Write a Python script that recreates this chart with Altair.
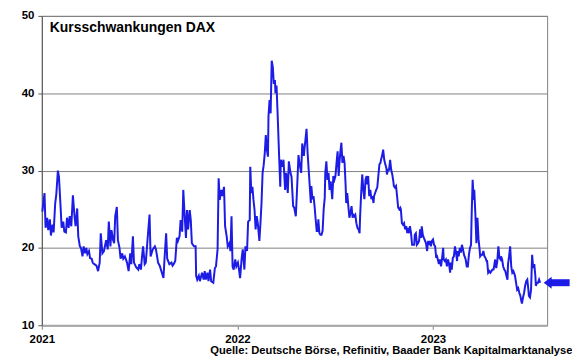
import altair as alt
import pandas as pd

# ---- data (day offset from 2021-01-01, value) ----
days_2021 = [1, 5, 7, 10, 12, 15, 17, 20, 22, 25, 27, 30, 32, 35, 37, 40, 42, 45, 47, 50,
             52, 55, 58, 61, 63, 66, 68, 71, 73, 76, 78, 81, 83, 85, 88, 90, 93, 95, 98, 102,
             105, 108, 110, 113, 116, 120, 123, 125, 128, 130, 133, 135, 137, 140, 142, 145,
             147, 150, 152, 155, 159, 162, 165, 167, 170, 172, 176, 180, 182, 185, 187, 189,
             192, 194, 198, 201, 203, 207, 211, 213, 217, 220, 224, 227, 229, 232, 234, 238,
             242, 244, 246, 249]
vals_2021 = [24.7, 27.1, 22.6, 23.9, 22.3, 23.7, 21.6, 23.0, 22.0, 25.8, 26.9, 30.0, 29.2,
             25.3, 22.6, 23.4, 22.1, 22.0, 23.9, 22.6, 24.1, 22.8, 26.8, 24.1, 22.8, 25.1,
             21.5, 20.2, 20.0, 18.9, 20.2, 19.3, 20.0, 19.2, 19.6, 18.7, 18.6, 18.1, 17.9,
             17.7, 17.0, 18.1, 21.9, 19.3, 19.6, 21.0, 19.8, 23.4, 20.2, 22.3, 21.0, 20.6,
             24.1, 25.3, 21.0, 20.0, 18.6, 19.3, 18.6, 18.9, 18.1, 17.0, 19.3, 17.9, 21.5,
             18.1, 17.5, 17.2, 17.9, 17.2, 18.9, 20.2, 17.9, 18.1, 21.7, 24.3, 18.9, 19.8,
             20.2, 19.8, 18.1, 17.7, 16.8, 16.1, 18.6, 21.9, 18.6, 17.9, 18.1, 17.7, 17.9, 18.3]

days_2021b = [252, 254, 257, 259, 262, 264, 266, 269, 271, 273, 276, 278, 280, 284, 287, 288,
              290, 293, 295, 299, 302, 304, 306, 309, 311, 314, 316, 320, 323, 325, 328, 330,
              332, 335, 337, 340, 342, 345, 347, 350, 352, 354, 356, 358, 361, 363, 366, 368,
              370, 373, 375, 378, 380, 383, 385, 388, 389, 391, 393, 395, 397, 399, 401, 403,
              406, 408, 410, 412, 414, 416, 418, 420, 422, 423, 425, 427, 429, 431, 433, 435,
              436, 438, 440, 443, 445, 446, 449, 451, 454, 456, 459, 461, 464, 466, 469, 471,
              474, 476, 479, 481, 484, 486]
vals_2021b = [21.3, 20.9, 21.5, 23.6, 22.1, 27.5, 24.9, 21.3, 24.9, 22.4, 24.9, 23.6, 20.6,
              20.2, 20.2, 16.4, 15.9, 16.4, 15.7, 16.8, 15.9, 17.0, 15.9, 16.8, 15.7, 17.2,
              15.7, 15.5, 17.4, 17.6, 19.8, 29.0, 26.2, 27.5, 26.7, 27.9, 22.8, 21.5, 20.2,
              20.6, 19.6, 24.1, 17.6, 17.2, 18.5, 17.6, 18.1, 17.2, 16.1, 18.7, 19.8, 17.2,
              20.2, 19.6, 23.4, 23.6, 30.5, 27.1, 27.9, 26.2, 24.9, 22.4, 24.1, 23.2, 20.9,
              23.2, 25.8, 29.7, 30.7, 32.2, 34.6, 32.7, 31.8, 37.0, 39.1, 37.4, 44.2, 43.4,
              41.2, 41.7, 40.0, 41.0, 37.4, 31.6, 27.9, 31.4, 30.5, 31.4, 27.5, 29.7, 27.1,
              31.2, 29.7, 29.2, 25.4, 25.2, 24.1, 27.1, 32.0, 30.9, 29.7, 33.5]

days_2022 = [489, 490, 492, 494, 496, 498, 500, 502, 503, 505, 507, 509, 511, 513, 515, 516,
             518, 520, 522, 524, 526, 528, 529, 531, 533, 535, 537, 539, 541, 542, 544, 546,
             548, 550, 552, 554, 555, 557, 559, 561, 563, 565, 567, 568, 570, 572, 574, 576,
             578, 580, 581, 583, 585, 587, 589, 591, 593, 594, 596, 598, 600, 602, 604, 606,
             607, 609, 611, 613, 615, 617, 619, 620, 622, 624, 626, 628, 630, 632, 633, 635,
             637, 639, 641, 643, 644, 646, 648, 650, 652, 654, 656, 657, 659, 661, 663, 665,
             667, 669, 670, 672, 674, 676, 678, 680, 682, 683, 685, 687, 689, 691, 693, 695,
             696, 698, 700, 702, 704, 706, 708, 709, 711, 713]
vals_2022 = [31.9, 32.7, 34.0, 35.4, 32.3, 30.1, 28.0, 25.8, 28.0, 26.3, 26.7, 25.4, 23.7,
             22.2, 22.2, 23.7, 21.9, 21.7, 21.7, 22.2, 25.0, 26.5, 29.7, 31.2, 28.8, 29.7,
             27.5, 28.6, 27.1, 26.3, 29.3, 28.8, 29.3, 31.0, 32.5, 29.3, 30.6, 32.3, 33.6,
             31.0, 31.9, 31.0, 28.0, 25.8, 27.1, 25.4, 23.9, 24.5, 25.4, 23.9, 24.3, 24.1,
             24.3, 23.2, 22.6, 22.4, 21.9, 24.1, 27.1, 29.5, 27.5, 26.3, 28.8, 29.3, 28.2,
             29.3, 26.7, 27.5, 26.3, 26.7, 25.8, 26.7, 27.1, 27.5, 27.8, 29.3, 30.8, 31.0,
             31.4, 31.9, 32.7, 31.4, 30.8, 30.3, 29.5, 30.1, 30.1, 31.4, 30.1, 29.5, 28.6,
             28.0, 27.8, 28.0, 26.7, 25.2, 25.0, 25.2, 25.0, 23.2, 23.0, 23.2, 22.4, 22.8,
             21.9, 22.6, 21.9, 22.8, 21.9, 20.4, 20.4, 20.4, 21.7, 21.9, 20.4, 20.6, 20.9,
             22.4, 21.3, 22.8, 21.7, 21.3]

days_2023 = [717, 719, 721, 723, 724, 726, 728, 730, 732, 734, 736, 737, 739, 741, 743, 745,
             747, 749, 750, 752, 754, 756, 758, 760, 762, 763, 765, 767, 769, 771, 773, 775,
             776, 778, 780, 782, 784, 786, 788, 789, 791, 793, 795, 797, 799, 801, 802, 804,
             806, 807, 809, 811, 813, 815, 817, 818, 820, 822, 824, 826, 828, 830, 831, 833,
             835, 837, 839, 841, 843, 844, 846, 848, 850, 852, 854, 856, 857, 859, 861, 863,
             865, 867, 869, 870, 872, 874, 876, 878, 880, 882, 883, 885, 887, 889, 891, 893,
             895, 896, 898, 900, 902, 904, 906, 908, 909, 911, 913, 915, 917, 919, 921, 922,
             924, 926, 928, 930]
vals_2023 = [20.6, 19.6, 20.9, 20.4, 20.9, 20.2, 20.9, 21.1, 20.4, 20.2, 18.7, 19.1, 18.5,
             17.9, 18.5, 17.6, 18.7, 20.0, 18.5, 18.3, 18.5, 17.6, 18.5, 17.9, 16.8, 18.1,
             17.2, 18.7, 18.9, 20.2, 19.4, 18.3, 19.6, 18.9, 20.0, 19.4, 20.4, 19.8, 19.1,
             18.9, 18.5, 17.6, 17.6, 19.1, 20.0, 20.4, 23.9, 28.8, 26.2, 27.5, 24.5, 20.6,
             23.9, 21.1, 19.8, 18.9, 19.1, 19.1, 19.6, 18.9, 18.7, 18.3, 18.3, 16.8, 17.0,
             16.8, 17.0, 17.2, 17.2, 17.6, 18.5, 17.4, 18.3, 20.2, 18.7, 18.5, 18.9, 18.5,
             17.6, 17.2, 17.0, 16.4, 15.9, 17.9, 18.9, 20.2, 17.6, 16.8, 17.0, 16.6, 16.4,
             15.5, 14.6, 14.8, 14.2, 13.8, 13.1, 12.8, 13.6, 14.2, 15.1, 15.7, 15.9, 14.6,
             13.8, 13.6, 14.6, 19.1, 17.4, 17.9, 16.4, 15.1, 15.5, 15.5, 15.9, 15.5]

year_ticks = [2021, 2022, 2023]
y_ticks = [10, 20, 30, 40, 50]
arrow_head_day = [944]
arrow_shaft_days = [949, 985]

title_text = "Kursschwankungen DAX"
source_text = "Quelle: Deutsche Börse, Refinitiv, Baader Bank Kapitalmarktanalyse"

# ---- build tables ----
base = pd.Timestamp("2021-01-01")
all_days = days_2021 + days_2021b + days_2022 + days_2023
all_vals = vals_2021 + vals_2021b + vals_2022 + vals_2023
df = pd.DataFrame({
    "date": base + pd.to_timedelta(all_days, unit="D"),
    "vdax": all_vals,
})
last_val = all_vals[-1]
head_df = pd.DataFrame({
    "date": base + pd.to_timedelta(arrow_head_day, unit="D"),
    "vdax": [last_val],
})
shaft_df = pd.DataFrame({
    "date": [base + pd.Timedelta(days=arrow_shaft_days[0])],
    "date2": [base + pd.Timedelta(days=arrow_shaft_days[1])],
    "vdax": [last_val],
})

BLUE = "#1c1ce6"
FONT = "Liberation Sans"

x_enc = alt.X(
    "date:T",
    scale=alt.Scale(domain=[alt.DateTime(year=2021, month=1, date=1),
                            alt.DateTime(year=2023, month=8, date=2)]),
    axis=alt.Axis(
        values=[alt.DateTime(year=y, month=1, date=1) for y in year_ticks],
        format="%Y", labelFlush=False, labelOverlap=False, grid=False,
        domainColor="#a6a6a6", domainWidth=2, tickColor="#7f7f7f", tickSize=4,
        labelFont=FONT, labelFontWeight="bold", labelFontSize=11.5, labelColor="black",
        labelPadding=4,
        title=source_text, titleFont=FONT, titleFontWeight="bold", titleFontSize=11.25,
        titleColor="black", titleX=533, titleY=28, titleAlign="right",
        titleBaseline="alphabetic", titleAnchor="end",
    ),
)
y_enc = alt.Y(
    "vdax:Q",
    scale=alt.Scale(domain=[10, 50], nice=False, zero=False),
    axis=alt.Axis(
        values=y_ticks, title=None, grid=True, gridColor="#808080", gridWidth=1,
        domainColor="#595959", tickColor="#595959", tickSize=4,
        labelFont=FONT, labelFontWeight="bold", labelFontSize=11.5, labelColor="black",
        labelPadding=4,
    ),
)

line = alt.Chart(df).mark_line(color=BLUE, strokeWidth=2).encode(x=x_enc, y=y_enc)

head = alt.Chart(head_df).mark_point(
    shape="M -1 0 L 1 -1.5 L 1 1.5 Z", filled=True, size=64, color=BLUE,
    opacity=1, clip=False,
).encode(x=x_enc, y=y_enc)

shaft = alt.Chart(shaft_df).mark_rule(color=BLUE, strokeWidth=7, clip=False).encode(
    x=x_enc, x2="date2:T", y=y_enc
)

title = alt.Chart(pd.DataFrame({"t": [title_text]})).mark_text(
    align="left", baseline="alphabetic", font=FONT, fontWeight="bold", fontSize=14,
    color="black",
).encode(text="t:N", x=alt.value(8), y=alt.value(16.5))

chart = alt.layer(line, head, shaft, title).properties(
    width=508, height=311,
    padding={"left": 34, "top": 7, "right": 25, "bottom": 32},
    autosize=alt.AutoSizeParams(type="none"),
    background="white",
).configure_view(stroke="#7f7f7f", strokeWidth=1)

chart.save("out.html", embed_options={"renderer": "svg", "actions": False})
